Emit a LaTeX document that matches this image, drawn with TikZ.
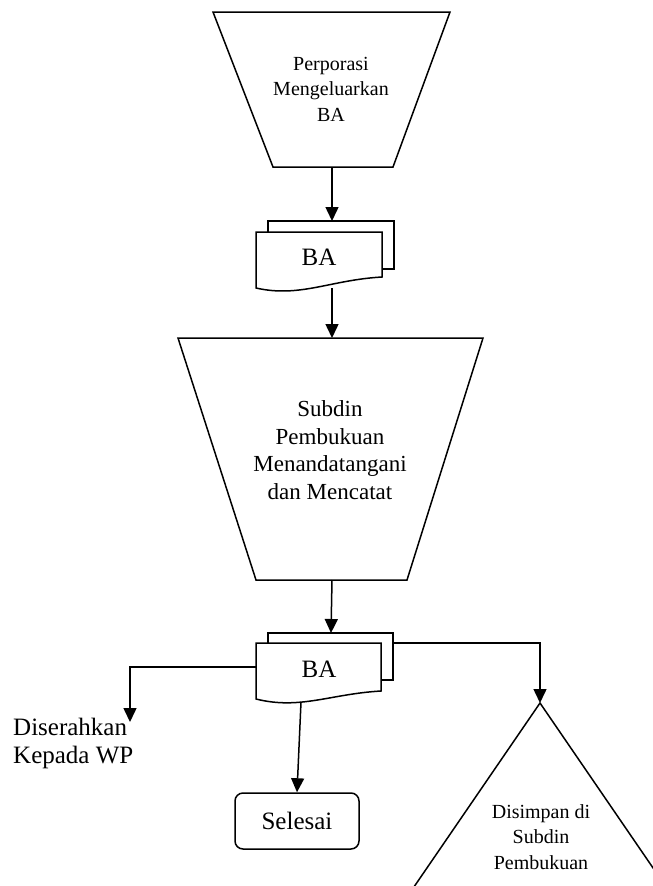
\documentclass[tikz,border=0pt]{standalone}
\usepackage{fontspec}
\setmainfont{Liberation Serif}
\usetikzlibrary{arrows.meta,calc}

\tikzset{
  shp/.style={line width=1.5pt, line join=miter, fill=white},
  flow/.style={line width=1.5pt},
  arr/.style={flow, -{Triangle[length=14pt,width=13pt]}},
  lbl/.style={align=center, inner sep=0pt},
  fsmall/.style={font=\fontsize{20}{25.5}\selectfont},
  fmid/.style={font=\fontsize{23}{27.5}\selectfont},
  fbig/.style={font=\fontsize{25}{28}\selectfont},
  terminal/.style={draw, line width=1.5pt, rounded corners=8pt, inner sep=0pt,
    minimum width=124pt, minimum height=56pt},
}

\begin{document}
\begin{tikzpicture}[x=1pt,y=-1pt]
\useasboundingbox (0,0) rectangle (653,886);

% manual operation: Perporasi
\draw[shp] (213,12) -- (450,12) -- (393,167) -- (273,167) -- cycle;
\node[lbl,fsmall] (op1) at (331,89) {Perporasi\\Mengeluarkan\\BA};
\coordinate (op1out) at (332,167);

% document BA (two sheets)
\draw[shp] (268,221) rectangle (394,269);
\draw[shp] (256,232) -- (382,232) -- (382,277)
  .. controls (330,280) and (300,298) .. (256,288) -- cycle;
\node[lbl,fbig,anchor=base] (doc1) at (319,265) {BA};
\coordinate (doc1in) at (332,221);
\coordinate (doc1out) at (332,288);

% manual operation: Subdin Pembukuan
\draw[shp] (178,338) -- (483,338) -- (407,580) -- (256,580) -- cycle;
\node[lbl,fmid] (op2) at (330,450) {Subdin\\Pembukuan\\Menandatangani\\dan Mencatat};
\coordinate (op2in) at (332,338);
\coordinate (op2out) at (332,580);

% document BA (two sheets)
\draw[shp] (268,633) rectangle (393,680);
\draw[shp] (256,643) -- (381,643) -- (381,691)
  .. controls (330,694) and (300,710) .. (256,699) -- cycle;
\node[lbl,fbig,anchor=base] (doc2) at (319,677) {BA};
\coordinate (doc2in) at (331,633);
\coordinate (doc2left) at (256,667);
\coordinate (doc2right) at (393,643);
\coordinate (doc2out) at (301,702);

% off-page storage
\begin{scope}
  \clip (0,0) rectangle (653,886);
  \draw[line width=1.5pt] (405,900) -- (540,703) -- (675,900);
\end{scope}
\coordinate (store) at (540,703);
\node[lbl,fsmall] (storetxt) at (541,837) {Disimpan di\\Subdin\\Pembukuan};

% handed to the taxpayer
\coordinate (wp) at (130,722);
\node[lbl,fbig,align=left,anchor=north west] (wptxt) at (13,718) {Diserahkan\\Kepada WP};

% terminator
\node[terminal,fbig] (end) at (297,821) {Selesai};

% connectors
\draw[arr] (op1out) -- (doc1in);
\draw[arr] (doc1out) -- (op2in);
\draw[arr] (op2out) -- (doc2in);
\draw[arr] (doc2left) -| (wp);
\draw[arr] (doc2right) -| (store);
\draw[arr] (doc2out) -- (end.north);
\end{tikzpicture}
\end{document}
